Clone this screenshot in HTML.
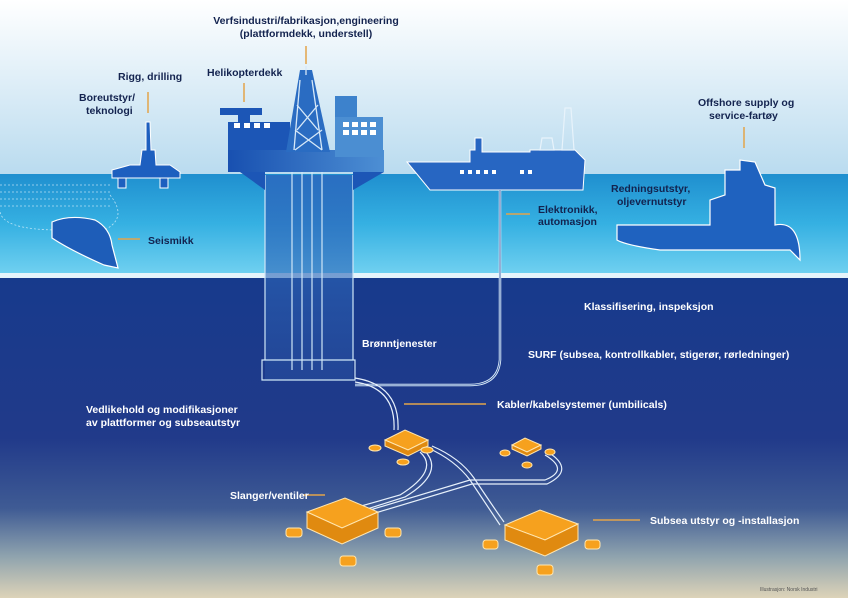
<!DOCTYPE html>
<html><head><meta charset="utf-8"><style>
html,body{margin:0;padding:0;width:848px;height:598px;overflow:hidden;background:#fff}
svg{display:block}
text{font-family:"Liberation Sans",sans-serif;font-weight:bold;font-size:10.5px}
.d{fill:#13234f}.w{fill:#fff}
</style></head><body>
<svg width="848" height="598" viewBox="0 0 848 598">
<defs>
<linearGradient id="sky" x1="0" y1="0" x2="0" y2="1"><stop offset="0" stop-color="#ffffff"/><stop offset="1" stop-color="#b9dbef"/></linearGradient>
<linearGradient id="sea" x1="0" y1="0" x2="0" y2="1"><stop offset="0" stop-color="#1f8fcf"/><stop offset=".5" stop-color="#35b0e2"/><stop offset="1" stop-color="#6fd0f0"/></linearGradient>
<linearGradient id="deep" x1="0" y1="0" x2="0" y2="1"><stop offset="0" stop-color="#173a8c"/><stop offset=".5" stop-color="#213a8a"/><stop offset=".72" stop-color="#3f5b94"/><stop offset=".87" stop-color="#8fa3ae"/><stop offset="1" stop-color="#ddd3b8"/></linearGradient>
<linearGradient id="plat" x1="0" y1="0" x2="1" y2="0"><stop offset="0" stop-color="#1850b0"/><stop offset="1" stop-color="#4d8fd4"/></linearGradient>
<linearGradient id="leg" x1="0" y1="0" x2="0" y2="1"><stop offset="0" stop-color="#2b6cc0" stop-opacity=".9"/><stop offset="1" stop-color="#2f5fb0" stop-opacity=".3"/></linearGradient>
</defs>
<rect width="848" height="175" fill="url(#sky)"/>
<rect y="174" width="848" height="99" fill="url(#sea)"/>
<rect y="273" width="848" height="5" fill="#e6f4fb"/>
<rect y="278" width="848" height="320" fill="url(#deep)"/>
<g stroke="#d8f0fb" stroke-width=".8" fill="none" stroke-dasharray="2 2" opacity=".8">
<path d="M0 185 L110 185 M0 192 L110 192 M0 199 L112 199 M0 206 L112 206"/>
<path d="M110 195 Q130 220 100 232 M60 230 Q0 230 0 210"/>
</g>
<g fill="#1d5fbf" stroke="#fff" stroke-width="1">
<path d="M146 122 L150 122 L151 150 L155 150 L156 165 L170 165 L180 172 L180 178 L112 178 L112 170 L130 165 L140 165 L142 150 L146 150 Z"/>
<rect x="118" y="178" width="8" height="10"/><rect x="160" y="178" width="8" height="10"/>
</g>
<path d="M52 222 Q70 214 95 220 Q110 228 112 245 L118 268 L104 265 Q70 250 52 238 Z" fill="#1e5db8" stroke="#fff" stroke-width="1.2"/>
<!-- platform -->
<rect x="265" y="175" width="88" height="205" fill="url(#leg)"/>
<g fill="none" stroke="#cfe6f7" stroke-width="1.2">
<path d="M265 175 V360 M353 175 V360 M292 172 V370 M302 172 V370 M312 172 V370 M322 172 V370"/>
<path d="M262 360 H355 V380 H262 Z"/>
</g>
<g fill="#1c56b6">
<rect x="220" y="108" width="42" height="7"/>
<rect x="238" y="115" width="12" height="8"/>
<rect x="228" y="122" width="62" height="38"/>
<rect x="228" y="150" width="156" height="22" fill="url(#plat)"/>
<path d="M240 172 L265 190 V172 Z M384 172 L353 190 V172 Z"/>
</g>
<rect x="335" y="96" width="22" height="30" fill="#3d82cc"/>
<rect x="335" y="117" width="48" height="40" fill="#4b8ed2"/>
<path d="M300 70 L312 70 L330 152 L286 152 Z" fill="#2a6cc2"/>
<path d="M306 66 L306 75 M300 80 L294 150 M312 80 L322 150 M297 105 L318 130 M318 105 L297 130 M295 130 L322 150 M322 130 L295 150" stroke="#d6e8f8" stroke-width="1.3" fill="none"/>
<g fill="#fff"><rect x="234" y="123" width="6" height="5"/><rect x="244" y="123" width="6" height="5"/><rect x="254" y="123" width="6" height="5"/><rect x="264" y="123" width="6" height="5"/>
<rect x="343" y="122" width="6" height="5"/><rect x="352" y="122" width="6" height="5"/><rect x="361" y="122" width="6" height="5"/><rect x="370" y="122" width="6" height="5"/><rect x="343" y="130" width="6" height="5"/><rect x="352" y="130" width="6" height="5"/><rect x="361" y="130" width="6" height="5"/><rect x="370" y="130" width="6" height="5"/></g>
<!-- supply ship middle -->
<path d="M407 162 H470 V150 H475 V138 H482 V152 H530 V150 H575 L585 160 L583 190 H430 Z" fill="#2766c2" stroke="#fff" stroke-width="1"/>
<path d="M562 150 L565 108 L571 108 L574 150 Z M540 150 L542 138 L552 138 L554 150 Z" fill="none" stroke="#e8f3fb" stroke-width="1.2"/>
<g fill="#fff"><rect x="460" y="170" width="4" height="4"/><rect x="468" y="170" width="4" height="4"/><rect x="476" y="170" width="4" height="4"/><rect x="484" y="170" width="4" height="4"/><rect x="492" y="170" width="4" height="4"/><rect x="520" y="170" width="4" height="4"/><rect x="528" y="170" width="4" height="4"/></g>
<path d="M500 190 V360 Q498 385 470 385 H355" stroke="#dfeefa" stroke-width="2.5" fill="none"/>
<path d="M500 190 V360 Q498 385 470 385 H355" stroke="#2a4f9c" stroke-width=".8" fill="none"/>
<path d="M617 225 H710 V200 L725 195 V170 H740 V160 L755 162 L765 185 L775 188 V225 Q800 220 800 260 L790 250 H660 Q625 245 617 240 Z" fill="#1f62bf" stroke="#fff" stroke-width="1.2"/>
<g fill="none" stroke="#e6f0fb" stroke-width="1.2">
<path d="M355 378 Q400 385 398 430 M355 382 Q396 388 394 430"/>
<path d="M420 452 Q440 470 400 495 L340 512 M424 450 Q446 472 405 497 L345 516"/>
<path d="M428 448 Q455 460 470 480 Q490 510 500 525 M432 446 Q460 458 474 478 Q494 508 504 522"/>
<path d="M370 510 L470 480 H545 Q570 470 545 455 M372 514 L472 484 H547 Q576 470 548 452"/>
</g>
<g fill="#f6a11e" stroke="#ffe6b0" stroke-width="1">
<path d="M385 440 L405 430 L428 440 L408 450 Z"/><path d="M385 440 V446 L408 456 L428 446 V440 L408 450 Z" fill="#e08a10"/>
<ellipse cx="375" cy="448" rx="6" ry="3"/><ellipse cx="427" cy="450" rx="6" ry="3"/><ellipse cx="403" cy="462" rx="6" ry="3"/>
<path d="M512 445 L525 438 L541 445 L527 452 Z"/><path d="M512 445 V449 L527 456 L541 449 V445 L527 452 Z" fill="#e08a10"/>
<ellipse cx="505" cy="453" rx="5" ry="3"/><ellipse cx="550" cy="452" rx="5" ry="3"/><ellipse cx="527" cy="465" rx="5" ry="3"/>
<path d="M307 512 L345 498 L378 512 L342 528 Z"/><path d="M307 512 V528 L342 544 L378 528 V512 L342 528 Z" fill="#e08a10"/>
<rect x="286" y="528" width="16" height="9" rx="3"/><rect x="385" y="528" width="16" height="9" rx="3"/><rect x="340" y="556" width="16" height="10" rx="3"/>
<path d="M505 525 L540 510 L578 524 L545 540 Z"/><path d="M505 525 V540 L545 556 L578 540 V524 L545 540 Z" fill="#e08a10"/>
<rect x="483" y="540" width="15" height="9" rx="3"/><rect x="585" y="540" width="15" height="9" rx="3"/><rect x="537" y="565" width="16" height="10" rx="3"/>
</g>
<g stroke="#e3a44a" stroke-width="1.5">
<line x1="306" y1="46" x2="306" y2="64"/><line x1="244" y1="83" x2="244" y2="102"/><line x1="148" y1="92" x2="148" y2="113"/>
<line x1="744" y1="127" x2="744" y2="148"/><line x1="118" y1="239" x2="140" y2="239"/><line x1="506" y1="214" x2="530" y2="214"/>
<line x1="404" y1="404" x2="486" y2="404"/><line x1="303" y1="495" x2="325" y2="495"/><line x1="593" y1="520" x2="640" y2="520"/>
</g>
<text class="d" x="306" y="24" text-anchor="middle">Verfsindustri/fabrikasjon,engineering</text>
<text class="d" x="306" y="37" text-anchor="middle">(plattformdekk, understell)</text>
<text class="d" x="207" y="76">Helikopterdekk</text>
<text class="d" x="118" y="80">Rigg, drilling</text>
<text class="d" x="79" y="101">Boreutstyr/</text>
<text class="d" x="86" y="114">teknologi</text>
<text class="d" x="148" y="244">Seismikk</text>
<text class="d" x="698" y="106">Offshore supply og</text>
<text class="d" x="709" y="119">service-fartøy</text>
<text class="d" x="611" y="192">Redningsutstyr,</text>
<text class="d" x="617" y="205">oljevernutstyr</text>
<text class="d" x="538" y="213">Elektronikk,</text>
<text class="d" x="538" y="225">automasjon</text>
<text class="w" x="584" y="310">Klassifisering, inspeksjon</text>
<text class="w" x="362" y="347">Brønntjenester</text>
<text class="w" x="528" y="358">SURF (subsea, kontrollkabler, stigerør, rørledninger)</text>
<text class="w" x="497" y="408">Kabler/kabelsystemer (umbilicals)</text>
<text class="w" x="86" y="413">Vedlikehold og modifikasjoner</text>
<text class="w" x="86" y="426">av plattformer og subseautstyr</text>
<text class="w" x="230" y="499">Slanger/ventiler</text>
<text class="w" x="650" y="524">Subsea utstyr og -installasjon</text>
<text x="760" y="591" style="font-size:5px;font-weight:normal;fill:#555">Illustrasjon: Norsk Industri</text>
</svg>
</body></html>
